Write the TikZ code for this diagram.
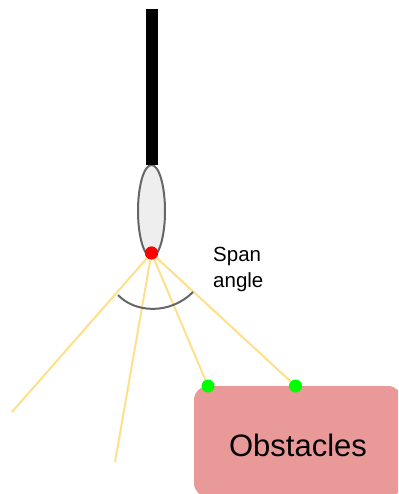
\documentclass[tikz,border=0pt]{standalone}
\usepackage{fontspec}
\setmainfont{Liberation Sans}
\usetikzlibrary{shapes.geometric}
\definecolor{rayyellow}{HTML}{FFE08A}
\definecolor{obstaclered}{HTML}{EA9999}
\definecolor{bodygrey}{HTML}{EEEEEE}
\definecolor{edgegrey}{HTML}{666666}
\tikzset{
    ray/.style={draw=rayyellow, line width=2pt},
    tipdot/.style={circle, fill=#1, inner sep=0pt, minimum size=13pt},
}
\begin{document}
\begin{tikzpicture}[x=1pt, y=-1pt]
    \useasboundingbox (0,0) rectangle (398,494);
    \clip (0,0) rectangle (398,494);
    \node[draw=edgegrey, fill=bodygrey, line width=2pt, ellipse, inner sep=0pt, minimum width=27pt, minimum height=92pt] (body) at (151.5,211) {};
    \node[fill=black, inner sep=0pt, minimum width=12pt, minimum height=156pt] (rod) at (152,87) {};
    \node[draw=none, fill=obstaclered, rounded corners=14pt, inner sep=0pt, minimum width=208pt, minimum height=111pt] (obstacles) at (298,441.5) {};
    \node[font=\fontsize{31}{36}\selectfont] (obstaclelabel) at (298,445) {Obstacles};
    \coordinate (rayA) at (12,412);
    \coordinate (rayB) at (115,462);
    \coordinate (hitA) at (208,386);
    \coordinate (hitB) at (295.5,386);
    \coordinate (arcL) at (118,295);
    \coordinate (arcR) at (193,292);
    \node[tipdot=red] (sensor) at (151.5,253) {};
    \draw[ray] (sensor.center) -- (rayA);
    \draw[ray] (sensor.center) -- (rayB);
    \draw[ray] (sensor.center) -- (hitA);
    \draw[ray] (sensor.center) -- (hitB);
    \node[tipdot=red] at (sensor) {};
    \node[tipdot=green] (dotA) at (hitA) {};
    \node[tipdot=green] (dotB) at (hitB) {};
    \draw[edgegrey, line width=2pt] (arcL) .. controls (135,313) and (170,315) .. (arcR);
    \node[anchor=north west, align=left, inner sep=0pt, font=\fontsize{20.5}{26}\selectfont] (spanlabel) at (213,247) {Span\\angle};
\end{tikzpicture}
\end{document}
